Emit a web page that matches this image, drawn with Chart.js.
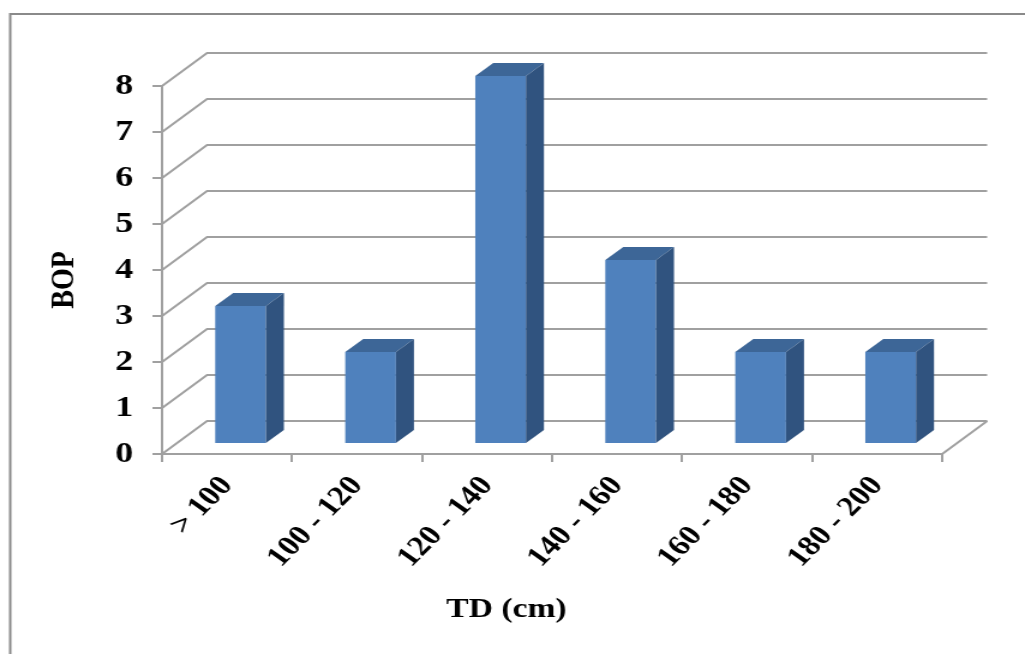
<!DOCTYPE html>
<html>
<head>
<meta charset="utf-8">
<script src="https://cdn.jsdelivr.net/npm/chart.js@4/dist/chart.umd.min.js"></script>
<style>
  html, body { margin: 0; padding: 0; background: #fff; overflow: hidden; }
  /* the original picture is a horizontally stretched Excel export */
  #wrap { width: 854px; height: 654px; transform: scaleX(1.2002); transform-origin: 0 0; }
</style>
</head>
<body>
<div id="wrap"><canvas id="bopChart" width="854" height="654"></canvas></div>
<script>
// chart data
const categories = ['> 100', '100 - 120', '120 - 140', '140 - 160', '160 - 180', '180 - 200'];
const bopValues = [3, 2, 8, 4, 2, 2];
const yMin = 0;
const yMax = 8;
const yStep = 1;
const xTitle = 'TD (cm)';
const yTitle = 'BOP';

// looks
const gridColor = '#a0a0a0';
const frontColor = '#4f81bd';
const topColor = '#3d6697';
const sideColor = '#30537f';
const depth = { x: 37.5, y: -33 };   // back wall offset
const barFront = 0.3, barBack = 0.7; // bar position inside the depth

Chart.defaults.font.family = "'Liberation Serif', 'Times New Roman', serif";
Chart.defaults.color = '#000';

// draws walls, 3D bar faces, axis titles and the outer frame
const wall3d = {
    id: 'wall3d',
    beforeDatasetsDraw(chart) {
        const { ctx, chartArea: a, scales: { y } } = chart;
        ctx.save();
        ctx.strokeStyle = gridColor;
        ctx.lineWidth = 2;
        y.ticks.forEach(t => {
            const py = y.getPixelForValue(t.value);
            ctx.beginPath();
            ctx.moveTo(a.left, py);
            ctx.lineTo(a.left + depth.x, py + depth.y);
            ctx.lineTo(a.right + depth.x, py + depth.y);
            ctx.stroke();
        });
        const y0 = y.getPixelForValue(yMin);
        ctx.beginPath();
        ctx.moveTo(a.right, y0);
        ctx.lineTo(a.right + depth.x, y0 + depth.y);
        ctx.stroke();
        ctx.restore();
        // front faces of the bars sit part way into the depth
        ctx.save();
        ctx.translate(depth.x * barFront, depth.y * barFront);
    },
    afterDatasetsDraw(chart) {
        const ctx = chart.ctx;
        ctx.restore();
        const dx = depth.x * barFront, dy = depth.y * barFront;
        const sx = depth.x * (barBack - barFront), sy = depth.y * (barBack - barFront);
        chart.getDatasetMeta(0).data.forEach(bar => {
            const { x, y, base, width } = bar.getProps(['x', 'y', 'base', 'width'], true);
            const l = x - width / 2 + dx, r = x + width / 2 + dx;
            const t = y + dy, b = base + dy;
            ctx.fillStyle = topColor;
            ctx.beginPath();
            ctx.moveTo(l, t);
            ctx.lineTo(l + sx, t + sy);
            ctx.lineTo(r + sx, t + sy);
            ctx.lineTo(r, t);
            ctx.closePath();
            ctx.fill();
            ctx.fillStyle = sideColor;
            ctx.beginPath();
            ctx.moveTo(r, t);
            ctx.lineTo(r + sx, t + sy);
            ctx.lineTo(r + sx, b + sy);
            ctx.lineTo(r, b);
            ctx.closePath();
            ctx.fill();
        });
    },
    afterDraw(chart) {
        const ctx = chart.ctx;
        ctx.save();
        ctx.fillStyle = '#000';
        ctx.font = "bold 28px 'Liberation Serif', serif";
        ctx.textAlign = 'center';
        ctx.textBaseline = 'alphabetic';
        ctx.fillText(xTitle, 422, 617);
        ctx.translate(61, 280);
        ctx.rotate(-Math.PI / 2);
        ctx.fillText(yTitle, 0, 0);
        ctx.restore();
        // outer frame
        ctx.save();
        ctx.strokeStyle = '#8a8a8a';
        ctx.lineWidth = 2;
        ctx.strokeRect(8.5, 14, 900, 700);
        ctx.restore();
    }
};

const ctxBop = document.getElementById('bopChart').getContext('2d');
const bopChart = new Chart(ctxBop, {
    type: 'bar',
    data: {
        labels: categories,
        datasets: [{
            label: yTitle,
            data: bopValues,
            backgroundColor: frontColor,
            borderWidth: 0,
            barPercentage: 0.39,
            categoryPercentage: 1,
            clip: false
        }]
    },
    options: {
        responsive: false,
        animation: false,
        devicePixelRatio: 1,
        layout: { padding: { top: 86, right: 69, bottom: 0, left: 0 } },
        plugins: {
            legend: { display: false },
            tooltip: { enabled: false }
        },
        scales: {
            x: {
                afterFit: s => { s.height = 200; },
                grid: {
                    offset: true,
                    drawOnChartArea: false,
                    tickLength: 8,
                    color: gridColor,
                    lineWidth: 2
                },
                border: { display: true, color: gridColor, width: 2 },
                ticks: {
                    autoSkip: false,
                    minRotation: 50,
                    maxRotation: 50,
                    padding: 8,
                    font: { size: 28, weight: 'bold' }
                }
            },
            y: {
                min: yMin,
                max: yMax,
                afterFit: s => { s.width = 135; },
                grid: {
                    drawOnChartArea: false,
                    tickLength: 8,
                    color: gridColor,
                    lineWidth: 2
                },
                border: { display: true, color: gridColor, width: 2 },
                ticks: {
                    stepSize: yStep,
                    padding: 16,
                    font: { size: 30, weight: 'bold' }
                }
            }
        }
    },
    plugins: [wall3d]
});
</script>
</body>
</html>
